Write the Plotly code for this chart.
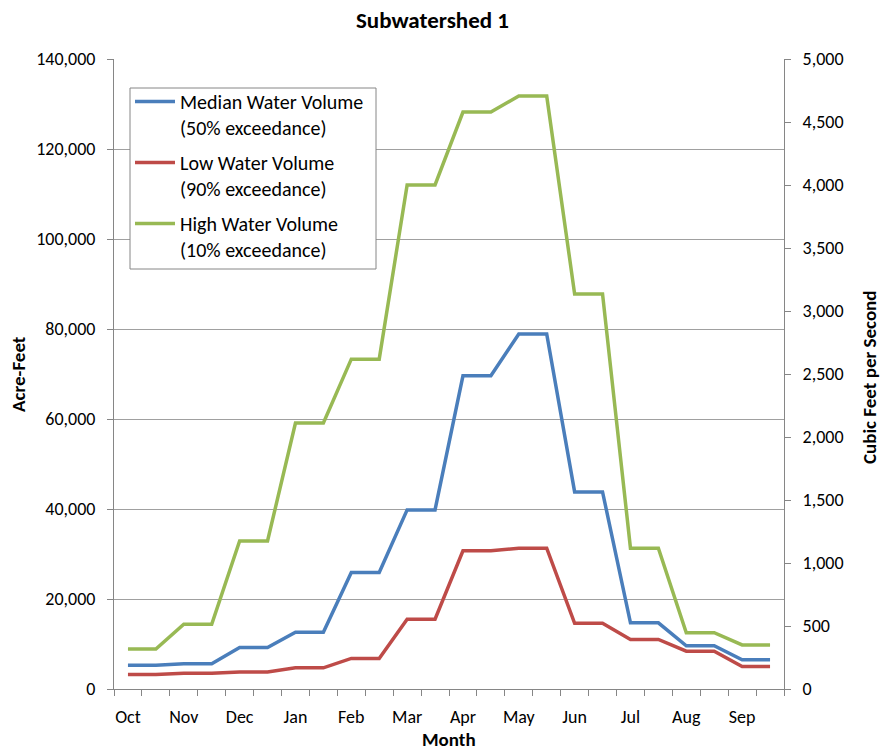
import plotly.graph_objects as go

months = ["Oct", "Nov", "Dec", "Jan", "Feb", "Mar", "Apr", "May", "Jun", "Jul", "Aug", "Sep"]
median_af = [5300, 5600, 9200, 12600, 25900, 39800, 69600, 78900, 43800, 14700, 9600, 6500]
low_af = [3200, 3500, 3800, 4700, 6800, 15500, 30700, 31300, 14600, 11000, 8400, 5000]
high_af = [8900, 14400, 32900, 59100, 73300, 112000, 128200, 131800, 87800, 31300, 12500, 9800]
left_ticks = [0, 20000, 40000, 60000, 80000, 100000, 120000, 140000]
right_ticks = [0, 500, 1000, 1500, 2000, 2500, 3000, 3500, 4000, 4500, 5000]
AF_PER_CFS = 28.0

FONT = "Carlito, Lato, sans-serif"

# each month has a start and end point (two categories per month)
x_pos = []
for i in range(len(months)):
    x_pos += [2 * i, 2 * i + 1]

def expand(vals):
    out = []
    for v in vals:
        out += [v, v]
    return out

series = [
    ("Median Water Volume<br>(50% exceedance)", median_af, "#4A7EBB"),
    ("Low Water Volume<br>(90% exceedance)", low_af, "#BE4B48"),
    ("High Water Volume<br>(10% exceedance)", high_af, "#98B954"),
]

fig = go.Figure()
for i, (name, vals, color) in enumerate(series):
    fig.add_trace(go.Scatter(
        x=x_pos, y=expand(vals), mode="lines", name=name,
        line=dict(color=color, width=3.5), legendgroup=str(i),
    ))

# secondary axis carrier (invisible)
fig.add_trace(go.Scatter(
    x=x_pos, y=[v / AF_PER_CFS for v in expand(median_af)], mode="lines",
    line=dict(color="rgba(0,0,0,0)", width=0), showlegend=False,
    hoverinfo="skip", yaxis="y2",
))

axis_col = "#868686"
grid_col = "#A0A0A0"

W, H = 881, 751
L, T = 114, 59
PW, PH = 670, 630

def px_x(x):  # window pixel -> paper
    return (x - L) / PW

def px_y(y):
    return (T + PH - y) / PH

fig.update_layout(
    width=W, height=H,
    margin=dict(l=L, r=W - L - PW, t=T, b=H - T - PH),
    paper_bgcolor="white", plot_bgcolor="white",
    font=dict(family=FONT, size=18, color="#000000"),
    showlegend=True,
    legend=dict(
        x=px_x(130), y=px_y(82), xanchor="left", yanchor="top",
        borderwidth=0, bgcolor="rgba(0,0,0,0)",
        font=dict(family=FONT, size=20, color="#000000"),
        tracegroupgap=6, valign="top", itemwidth=40,
    ),
    shapes=[
        dict(type="rect", xref="paper", yref="paper",
             x0=px_x(130), x1=px_x(376), y0=px_y(269), y1=px_y(88),
             line=dict(color=axis_col, width=1), fillcolor="white", layer="above"),
    ],
    xaxis=dict(
        range=[-0.5, 23.5],
        tickmode="array",
        tickvals=[2 * i for i in range(len(months))],
        ticktext=months,
        ticks="", showgrid=False, zeroline=False,
        showline=True, linecolor=axis_col, linewidth=1,
        tickfont=dict(size=18),
        ticklabelstandoff=11,
        minor=dict(tickmode="linear", tick0=-0.5, dtick=1, ticks="outside",
                   ticklen=6, tickcolor=axis_col, showgrid=False),
    ),
    yaxis=dict(
        range=[0, 140000],
        tickmode="array", tickvals=left_ticks,
        ticktext=[f"{v:,}" for v in left_ticks],
        ticks="outside", ticklen=6, tickcolor=axis_col,
        showgrid=False, zeroline=False,
        showline=True, linecolor=axis_col, linewidth=1,
        tickfont=dict(size=18), ticklabelstandoff=8,
        minor=dict(tickvals=left_ticks[1:-1], showgrid=True, gridcolor=grid_col,
                   gridwidth=1, ticks=""),
    ),
    yaxis2=dict(
        range=[0, 5000], overlaying="y", side="right",
        tickmode="array", tickvals=right_ticks,
        ticktext=[f"{v:,}" for v in right_ticks],
        ticks="outside", ticklen=6, tickcolor=axis_col,
        showgrid=False, zeroline=False,
        showline=True, linecolor=axis_col, linewidth=1,
        tickfont=dict(size=18), ticklabelstandoff=8,
    ),
    annotations=[
        dict(text="<b>Subwatershed 1</b>", xref="paper", yref="paper",
             x=px_x(432), y=px_y(20), xanchor="center", yanchor="middle",
             showarrow=False, font=dict(size=23)),
        dict(text="<b>Month</b>", xref="paper", yref="paper",
             x=0.5, y=px_y(739), xanchor="center", yanchor="middle",
             showarrow=False, font=dict(size=19)),
        dict(text="<b>Acre-Feet</b>", xref="paper", yref="paper",
             x=px_x(18), y=px_y(374), xanchor="center", yanchor="middle",
             textangle=-90, showarrow=False, font=dict(size=19)),
        dict(text="<b>Cubic Feet per Second</b>", xref="paper", yref="paper",
             x=px_x(869), y=px_y(377), xanchor="center", yanchor="middle",
             textangle=-90, showarrow=False, font=dict(size=19)),
    ],
)

fig.write_html(
    "out.html",
    config={"displayModeBar": False},
    post_script="document.body.style.margin='0px';document.body.style.overflow='hidden';",
)
